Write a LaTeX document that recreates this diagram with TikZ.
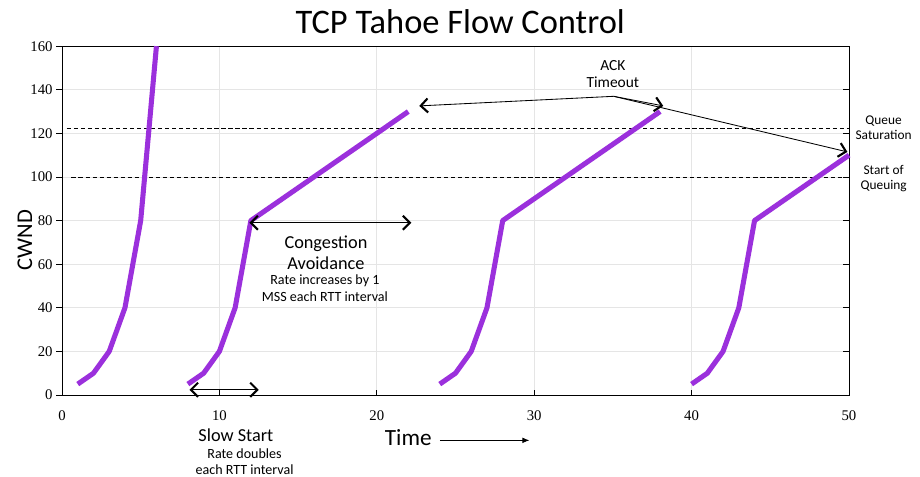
\documentclass[tikz,border=0pt]{standalone}
\usepackage{fontspec}
\setmainfont{Liberation Serif}
\newfontfamily\calibri{Carlito}
\newfontfamily\tickfont{Liberation Serif}
\usetikzlibrary{arrows.meta}
\definecolor{cwnd}{RGB}{155,48,220}

\begin{document}
\begin{tikzpicture}[
    x=0.3935cm, y=0.0545cm,
    window/.style={line width=3.6pt, draw=cwnd, line join=round},
    gridline/.style={draw=black!10, line width=0.5pt},
    level/.style={densely dashed, line width=0.5pt},
    pointer/.style={line width=0.6pt, >={Straight Barb[length=5pt,width=10pt,line width=1.5pt]}},
    label/.style={font=\calibri, align=center, inner sep=1pt},
    ticklabel/.style={font=\tickfont\fontsize{10.5}{12}\selectfont, inner sep=2pt}
]
    \useasboundingbox (-1.55cm,-2.05cm) rectangle (21.45cm,9.875cm);

    % grid and frame
    \foreach \x in {10,20,...,40} \draw[gridline] (\x,0) -- (\x,160);
    \foreach \y in {20,40,...,140} \draw[gridline] (0,\y) -- (50,\y);
    \draw[line width=0.7pt] (0,0) rectangle (50,160);
    \foreach \y in {0,20,...,160} {
        \draw[line width=0.6pt] (-0.35,\y) -- (0,\y);
        \draw[line width=0.6pt] (50,\y) -- (49.65,\y);
        \node[ticklabel, anchor=east] (ylab\y) at (-0.4,\y) {\y};
    }
    \foreach \x in {0,10,...,50} {
        \draw[line width=0.6pt] (\x,0) -- (\x,2.5);
        \node[ticklabel] (xlab\x) at (\x,-9.5) {\x};
    }

    % queue levels
    \draw[level] (0.3,122.5) -- (50,122.5);
    \draw[level] (0.6,100) -- (50,100);

    % window size
    \draw[window] (1,5) -- (2,10) -- (3,20) -- (4,40) -- (5,80) -- (6,160);
    \draw[window] (8,5) -- (9,10) -- (10,20) -- (11,40) -- (12,80) -- (22,130);
    \draw[window] (24,5) -- (25,10) -- (26,20) -- (27,40) -- (28,80) -- (38,130);
    \draw[window] (40,5) -- (41,10) -- (42,20) -- (43,40) -- (44,80) -- (50,110);

    % titles
    \node[label, font=\calibri\fontsize{24.5}{28}\selectfont] (title) at (25.3,171.1) {TCP Tahoe Flow Control};
    \node[label, font=\calibri\fontsize{16}{19}\selectfont, rotate=90] (cwnd) at (-2.35,71) {CWND};
    \node[label, font=\calibri\fontsize{16.5}{19}\selectfont] (time) at (22.0,-19.5) {Time};
    \coordinate (timea) at (24.0,-20.8);
    \coordinate (timeb) at (29.7,-20.8);
    \draw[-{Latex[length=5pt,width=4pt]}, line width=0.6pt] (timea) -- (timeb);

    % slow start
    \node[label, font=\calibri\fontsize{13}{15}\selectfont] (slow) at (11.05,-18.6) {Slow Start};
    \node[label, font=\calibri\fontsize{10}{11}\selectfont] (slowtxt) at (11.6,-30.6) {Rate doubles\\each RTT interval};
    \coordinate (ssa) at (8.1,2.4);
    \coordinate (ssb) at (12.5,2.4);
    \draw[pointer, <->] (ssa) -- (ssb);

    % congestion avoidance
    \node[label, font=\calibri\fontsize{13}{15.5}\selectfont] (cong) at (16.77,65.2) {Congestion\\Avoidance};
    \node[label, font=\calibri\fontsize{10}{12}\selectfont] (congtxt) at (16.7,48.9) {Rate increases by 1\\MSS each RTT interval};
    \coordinate (caa) at (11.9,79);
    \coordinate (cab) at (22.2,79);
    \draw[pointer, <->] (caa) -- (cab);

    % ack timeout
    \node[label, font=\calibri\fontsize{11}{12.5}\selectfont] (ack) at (35,147.3) {ACK\\Timeout};
    \coordinate (acks) at (35.05,137);
    \coordinate (ack1) at (22.7,132.6);
    \coordinate (ack2) at (38.2,132.6);
    \coordinate (ack3) at (49.9,111.5);
    \draw[pointer, ->] (acks) -- (ack1);
    \draw[pointer, ->] (acks) -- (ack2);
    \draw[pointer, ->] (acks) -- (ack3);

    % right side labels
    \node[label, font=\calibri\fontsize{9.5}{11}\selectfont] (qsat) at (52.2,122.5) {Queue\\Saturation};
    \node[label, font=\calibri\fontsize{9.5}{11}\selectfont] (qstart) at (52.2,99.3) {Start of\\Queuing};
\end{tikzpicture}
\end{document}
